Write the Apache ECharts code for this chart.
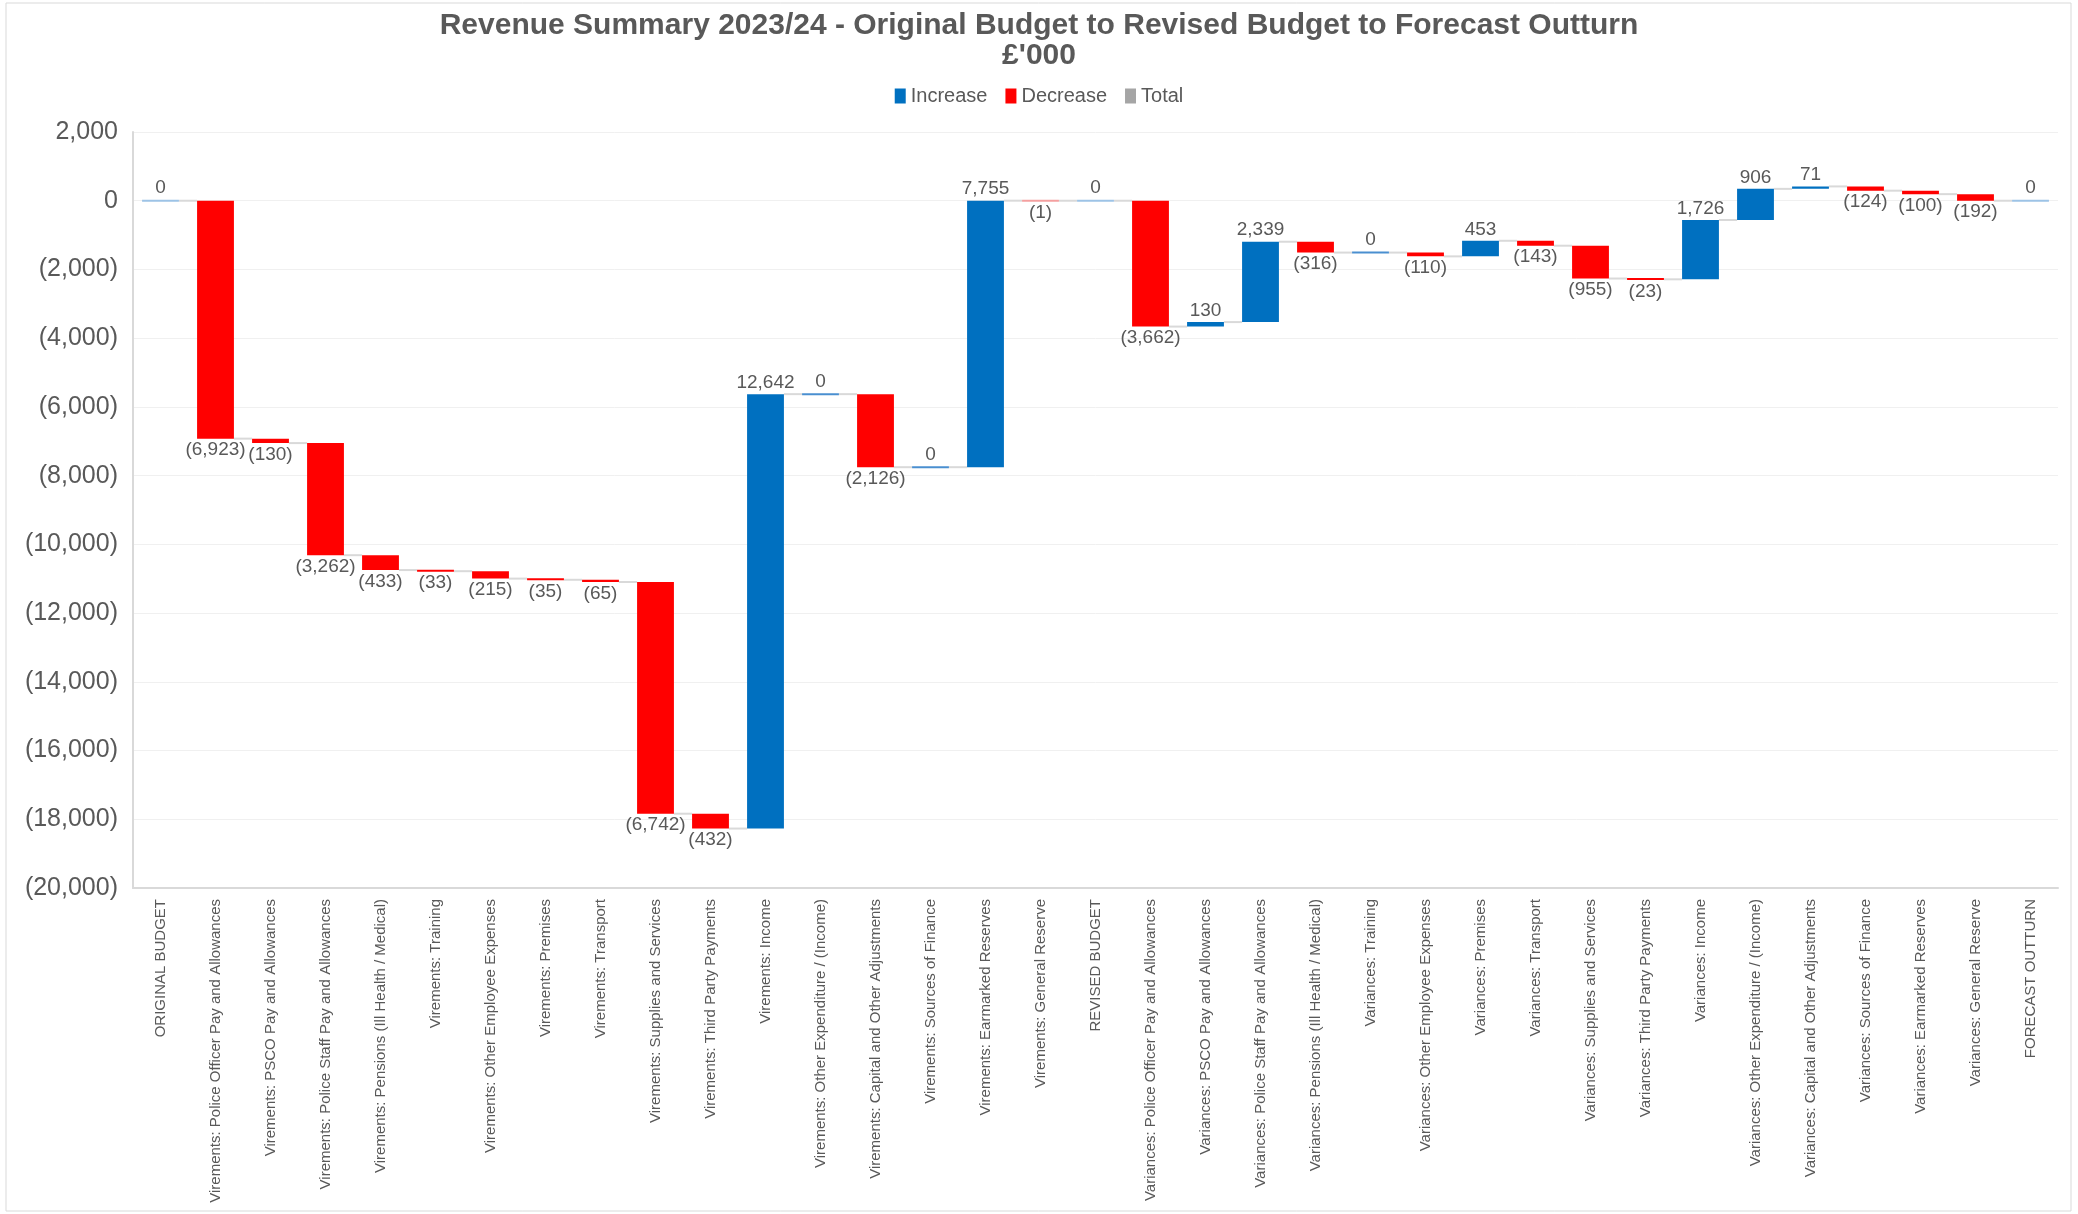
<!DOCTYPE html>
<html>
<head>
<meta charset="utf-8">
<title>Revenue Summary 2023/24</title>
<script src="https://cdn.jsdelivr.net/npm/echarts@6/dist/echarts.min.js"></script>
<style>
  html, body { margin: 0; padding: 0; background: #fff; }
  #chart { width: 2078px; height: 1214px; }
</style>
</head>
<body>
<div id="chart"></div>
<script>
// categories along the x axis
var categories = [
  'ORIGINAL BUDGET',
  'Virements: Police Officer Pay and Allowances',
  'Virements: PSCO Pay and Allowances',
  'Virements: Police Staff Pay and Allowances',
  'Virements: Pensions (Ill Health / Medical)',
  'Virements: Training',
  'Virements: Other Employee Expenses',
  'Virements: Premises',
  'Virements: Transport',
  'Virements: Supplies and Services',
  'Virements: Third Party Payments',
  'Virements: Income',
  'Virements: Other Expenditure / (Income)',
  'Virements: Capital and Other Adjustments',
  'Virements: Sources of Finance',
  'Virements: Earmarked Reserves',
  'Virements: General Reserve',
  'REVISED BUDGET',
  'Variances: Police Officer Pay and Allowances',
  'Variances: PSCO Pay and Allowances',
  'Variances: Police Staff Pay and Allowances',
  'Variances: Pensions (Ill Health / Medical)',
  'Variances: Training',
  'Variances: Other Employee Expenses',
  'Variances: Premises',
  'Variances: Transport',
  'Variances: Supplies and Services',
  'Variances: Third Party Payments',
  'Variances: Income',
  'Variances: Other Expenditure / (Income)',
  'Variances: Capital and Other Adjustments',
  'Variances: Sources of Finance',
  'Variances: Earmarked Reserves',
  'Variances: General Reserve',
  'FORECAST OUTTURN'
];

// movement for each step (£'000); totals hold the total itself
var values = [
  0, -6923, -130, -3262, -433, -33, -215, -35, -65, -6742, -432,
  12642, 0, -2126, 0, 7755, -1,
  0, -3662, 130, 2339, -316, 0, -110, 453, -143, -955, -23,
  1726, 906, 71, -124, -100, -192,
  0
];

// which categories are totals
var totalIdx = [0, 17, 34];

// y axis ticks
var yMin = -20000;
var yMax = 2000;
var yStep = 2000;

var BLUE = '#0070C0', RED = '#FF0000', GREY = '#A5A5A5';
var FONT = 'Liberation Sans, Arial, sans-serif';

function fmt(v) {
  var s = String(Math.abs(v)).replace(/\B(?=(\d{3})+(?!\d))/g, ',');
  return v < 0 ? '(' + s + ')' : s;
}

// build the floating bars
var rows = { inc: [], dec: [], total: [] };
var level = 0;
values.forEach(function (v, i) {
  var start, end, kind;
  if (totalIdx.indexOf(i) >= 0) {
    start = 0; end = v; level = v; kind = 'total';
  } else {
    start = level; end = level + v; level = end;
    kind = v < 0 ? 'dec' : 'inc';
  }
  rows[kind].push([i, start, end, v]);
});

var nCat = categories.length;

function renderBar(kind) {
  return function (params, api) {
    var i = api.value(0), s = api.value(1), e = api.value(2), v = api.value(3);
    var p0 = api.coord([i, s]);
    var p1 = api.coord([i, e]);
    var bw = api.size([1, 0])[0] * 0.67;
    var x = p0[0] - bw / 2;
    var top = Math.min(p0[1], p1[1]);
    var h = Math.abs(p0[1] - p1[1]);
    var color = api.visual('color');
    if (h < 2) {
      top = top - (2 - h) / 2;
      h = 2;
    }
    if (v === 0) {
      color = kind === 'total' ? '#9DC3E6' : '#4A8FD0';
    } else if (Math.abs(p0[1] - p1[1]) < 0.5) {
      color = '#F4A0A0';
    }
    var children = [{
      type: 'rect',
      shape: { x: x, y: top, width: bw, height: h },
      style: { fill: color }
    }];
    if (i < nCat - 1) {
      var nx = api.coord([i + 1, e])[0] - bw / 2;
      children.push({
        type: 'line',
        shape: { x1: x + bw, y1: p1[1], x2: nx, y2: p1[1] },
        style: { stroke: '#D9D9D9', lineWidth: 2 },
        z2: -1
      });
    }
    var below = kind === 'dec';
    children.push({
      type: 'text',
      style: {
        text: fmt(v),
        x: p0[0],
        y: below ? top + h + 2 : top - 2,
        align: 'center',
        verticalAlign: below ? 'top' : 'bottom',
        fill: '#595959',
        fontSize: 19,
        fontFamily: FONT
      }
    });
    return { type: 'group', children: children };
  };
}

function series(name, kind, color) {
  return {
    name: name,
    type: 'custom',
    renderItem: renderBar(kind),
    encode: { x: 0, y: [1, 2] },
    itemStyle: { color: color },
    data: rows[kind]
  };
}

var chart = echarts.init(document.getElementById('chart'));
chart.setOption({
  backgroundColor: '#fff',
  animation: false,
  textStyle: { fontFamily: FONT },
  graphic: [{
    type: 'rect',
    shape: { x: 6, y: 3, width: 2065, height: 1208 },
    style: { fill: 'none', stroke: '#D9D9D9', lineWidth: 1 },
    silent: true
  }],
  title: {
    text: "Revenue Summary 2023/24 - Original Budget to Revised Budget to Forecast Outturn\n£'000",
    left: 'center',
    top: 6,
    textStyle: {
      color: '#595959',
      fontSize: 30,
      fontWeight: 'bold',
      lineHeight: 30,
      fontFamily: FONT
    }
  },
  legend: {
    data: ['Increase', 'Decrease', 'Total'],
    top: 81,
    left: 'center',
    icon: 'rect',
    itemWidth: 11,
    itemHeight: 15,
    itemGap: 18,
    itemStyle: { borderWidth: 0 },
    textStyle: { color: '#595959', fontSize: 20, fontFamily: FONT }
  },
  grid: { left: 133, right: 20, top: 132, bottom: 326, containLabel: false },
  xAxis: {
    type: 'category',
    data: categories,
    axisLine: { onZero: false, lineStyle: { color: '#D9D9D9', width: 2 } },
    axisTick: { show: false },
    axisLabel: {
      interval: 0,
      rotate: 90,
      margin: 11,
      color: '#595959',
      fontSize: 15,
      fontFamily: FONT
    },
    splitLine: { show: false }
  },
  yAxis: {
    type: 'value',
    min: yMin,
    max: yMax,
    interval: yStep,
    axisLine: { show: true, lineStyle: { color: '#D9D9D9', width: 2 } },
    axisTick: { show: false },
    axisLabel: {
      formatter: fmt,
      color: '#595959',
      fontSize: 25,
      margin: 15,
      fontFamily: FONT
    },
    splitLine: { lineStyle: { color: '#F0F0F0', width: 1 } }
  },
  series: [
    series('Increase', 'inc', BLUE),
    series('Decrease', 'dec', RED),
    series('Total', 'total', GREY)
  ]
});
</script>
</body>
</html>
